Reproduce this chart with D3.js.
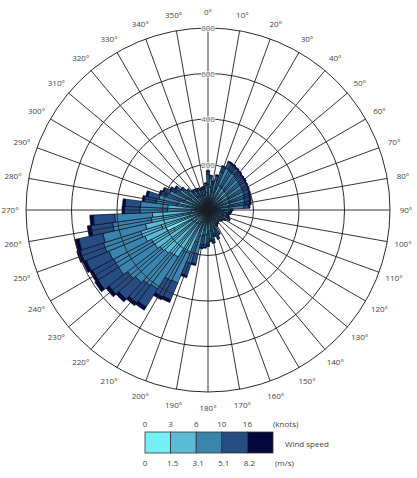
<!DOCTYPE html>
<html>
<head>
<meta charset="utf-8">
<script src="https://cdn.jsdelivr.net/npm/d3@7"></script>
<style>
  body { margin: 0; background: #fff; }
  svg text { font-family: "Open Sans", "DejaVu Sans", sans-serif; fill: #444; }
</style>
</head>
<body>
<svg id="chart" width="417" height="478"></svg>
<script>
// directions, 5 degree sectors
const directions = d3.range(0, 360, 5);

// frequency per speed class (m/s), one value per direction
const speed0to1_5 = [52,46,39,24,31,35,35,34,33,32,32,31,31,30,30,29,29,28,
  33,31,30,29,30,32,27,24,23,21,22,23,25,35,41,36,44,42,
  48,50,52,35,44,62,62,73,74,77,79,83,170,200,215,84,75,73,
  53,53,41,39,34,32,29,26,45,38,34,33,32,32,30,31,32,36];
const speed1_5to3_1 = [61,54,46,56,72,82,80,79,77,75,74,73,72,71,69,68,67,65,
  39,36,35,33,35,37,32,28,26,25,25,27,29,41,47,42,52,49,
  56,59,60,83,103,145,147,172,175,181,186,195,110,100,95,198,177,172,
  125,124,96,92,79,76,66,61,53,45,39,39,37,37,35,36,37,42];
const speed3_1to5_1 = [43,38,33,56,72,82,80,79,77,75,74,73,72,71,69,68,67,65,
  27,26,25,24,25,27,22,20,19,17,18,19,20,30,34,30,37,35,
  40,42,43,80,100,141,142,167,170,175,181,189,187,172,172,192,171,166,
  121,120,93,90,79,76,66,61,37,32,28,27,27,26,25,26,26,30];
const speed5_1to8_2 = [14,12,10,19,24,28,28,27,26,26,26,25,24,24,24,24,23,22,
  9,9,8,7,8,8,7,6,6,6,6,6,7,10,11,10,12,11,
  13,14,14,45,56,79,80,94,95,99,102,106,105,107,107,108,96,94,
  68,68,53,50,27,26,23,21,12,10,9,9,9,8,8,9,9,10];
const speedOver8_2 = [3,3,2,5,6,6,7,6,7,7,6,6,6,6,6,6,6,5,
  2,2,2,2,2,2,2,2,1,1,1,1,1,2,2,2,3,3,
  3,3,3,7,9,13,14,16,16,16,17,17,13,16,16,18,16,15,
  11,11,9,9,7,6,6,6,3,3,2,2,2,2,2,2,2,2];

const speedKeys = ["s1", "s2", "s3", "s4", "s5"];
const speedColors = ["#76eef5", "#5bbcd6", "#3b84ad", "#264c82", "#03063a"];
const ringValues = [200, 400, 600, 800];
const knotLabels = ["0", "3", "6", "10", "16"];
const msLabels = ["0", "1.5", "3.1", "5.1", "8.2"];

const table = directions.map((d, i) => ({
  dir: d,
  s1: speed0to1_5[i], s2: speed1_5to3_1[i], s3: speed3_1to5_1[i],
  s4: speed5_1to8_2[i], s5: speedOver8_2[i]
}));

const svg = d3.select("#chart");
const cx = 208, cy = 210;

const r = d3.scaleLinear().domain([0, 800]).range([0, 182]);
const color = d3.scaleOrdinal().domain(speedKeys).range(speedColors);
const rad = Math.PI / 180;

const stacked = d3.stack().keys(speedKeys)(table);

const g = svg.append("g").attr("transform", "translate(" + cx + "," + cy + ")");

const arc = d3.arc()
  .innerRadius(d => r(d[0]))
  .outerRadius(d => r(d[1]))
  .startAngle(d => (d.data.dir - 2.5) * rad)
  .endAngle(d => (d.data.dir + 2.5) * rad);

g.selectAll(".layer")
  .data(stacked)
  .enter().append("g")
  .attr("class", "layer")
  .attr("fill", d => color(d.key))
  .selectAll("path")
  .data(d => d)
  .enter().append("path")
  .attr("d", arc)
  .attr("stroke", "#050c26")
  .attr("stroke-width", 0.7);

// grid on top of the bars
g.selectAll(".ring")
  .data(ringValues)
  .enter().append("circle")
  .attr("r", d => r(d))
  .attr("fill", "none")
  .attr("stroke", "#2a2a2a")
  .attr("stroke-width", 1);

const spokes = d3.range(0, 360, 10);
g.selectAll(".spoke")
  .data(spokes)
  .enter().append("line")
  .attr("x1", 0).attr("y1", 0)
  .attr("x2", d => r(800) * Math.sin(d * rad))
  .attr("y2", d => -r(800) * Math.cos(d * rad))
  .attr("stroke", "#1e1e1e")
  .attr("stroke-width", 0.9);

g.selectAll(".ringLabel")
  .data(ringValues)
  .enter().append("text")
  .attr("x", 0)
  .attr("y", d => -r(d) + 3)
  .attr("text-anchor", "middle")
  .style("font-size", "8px")
  .style("fill", "#666")
  .style("stroke", "#fff")
  .style("stroke-width", 1.5)
  .style("paint-order", "stroke")
  .text(d => d);

g.selectAll(".dirLabel")
  .data(spokes)
  .enter().append("text")
  .attr("x", d => 198 * Math.sin(d * rad))
  .attr("y", d => -198 * Math.cos(d * rad) + 3)
  .attr("text-anchor", "middle")
  .style("font-size", "8px")
  .text(d => d + "°");

// legend
const lx = d3.scaleLinear().domain([0, 5]).range([145, 273]);
const legend = svg.append("g");

legend.selectAll("rect")
  .data(speedKeys)
  .enter().append("rect")
  .attr("x", (d, i) => lx(i))
  .attr("y", 432)
  .attr("width", lx(1) - lx(0))
  .attr("height", 21)
  .attr("fill", d => color(d))
  .attr("stroke", "#333")
  .attr("stroke-width", 0.8);

legend.selectAll(".knot")
  .data(knotLabels)
  .enter().append("text")
  .attr("x", (d, i) => lx(i))
  .attr("y", 427)
  .attr("text-anchor", "middle")
  .style("font-size", "8px")
  .text(d => d);

legend.selectAll(".ms")
  .data(msLabels)
  .enter().append("text")
  .attr("x", (d, i) => lx(i) + (i ? 2 : 0))
  .attr("y", 466)
  .attr("text-anchor", "middle")
  .style("font-size", "8px")
  .text(d => d);

legend.append("text").attr("x", 273).attr("y", 427)
  .style("font-size", "8px").text("(knots)");
legend.append("text").attr("x", 275).attr("y", 466)
  .style("font-size", "8px").text("(m/s)");
legend.append("text").attr("x", 285).attr("y", 447)
  .style("font-size", "8px").text("Wind speed");
</script>
</body>
</html>
